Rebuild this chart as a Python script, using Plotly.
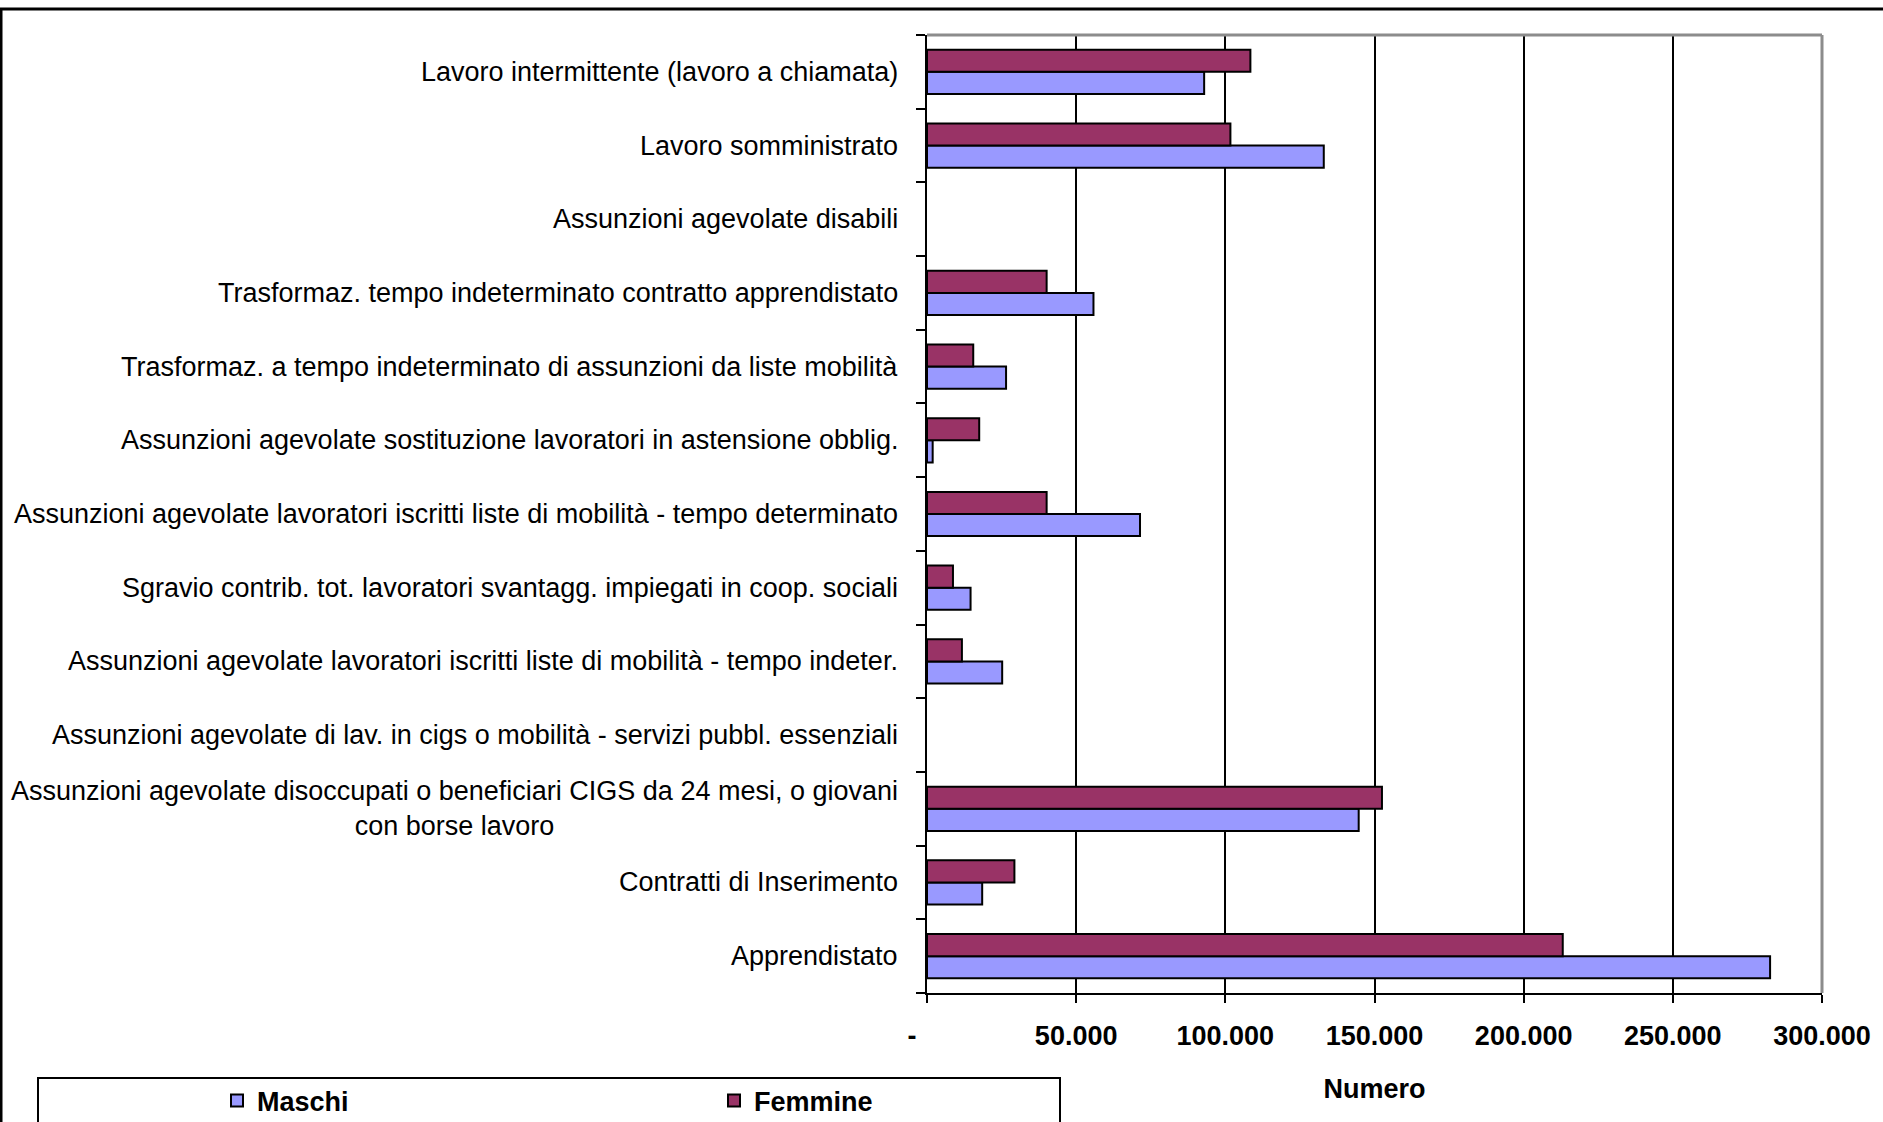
import plotly.graph_objects as go

# Categories listed top to bottom as they appear on the chart
categorie = [
    "Lavoro intermittente (lavoro a chiamata)",
    "Lavoro somministrato",
    "Assunzioni agevolate disabili",
    "Trasformaz. tempo indeterminato contratto apprendistato",
    "Trasformaz. a tempo indeterminato di assunzioni da liste mobilità",
    "Assunzioni agevolate sostituzione lavoratori in astensione obblig.",
    "Assunzioni agevolate lavoratori iscritti liste di mobilità - tempo determinato",
    "Sgravio contrib. tot. lavoratori svantagg. impiegati in coop. sociali",
    "Assunzioni agevolate lavoratori iscritti liste di mobilità - tempo indeter.",
    "Assunzioni agevolate di lav. in cigs o mobilità - servizi pubbl. essenziali",
    "Assunzioni agevolate disoccupati o beneficiari CIGS da 24 mesi, o giovani<br>con borse lavoro",
    "Contratti di Inserimento",
    "Apprendistato",
]

maschi = [92900, 133000, 0, 55800, 26500, 1900, 71400, 14600, 25200, 0, 144700, 18500, 282600]
femmine = [108400, 101700, 0, 40100, 15500, 17500, 40100, 8700, 11700, 0, 152500, 29300, 213100]

tick_valori = [0, 50000, 100000, 150000, 200000, 250000, 300000]
tick_testi = ["-\u00a0\u00a0\u00a0\u00a0", "50.000", "100.000", "150.000", "200.000", "250.000", "300.000"]

# Plotly stacks categories bottom-up, so feed them reversed
cat_plot = categorie[::-1]

FONT = "Liberation Sans, Arial, sans-serif"


def outline(values):
    # no outline on empty bars, so zero values leave no trace
    return [2 if v else 0 for v in values]


fig = go.Figure()
fig.add_trace(go.Bar(
    name="Maschi", y=cat_plot, x=maschi[::-1], orientation="h",
    marker=dict(color="#9999FF", line=dict(color="black", width=outline(maschi[::-1]))),
))
fig.add_trace(go.Bar(
    name="Femmine", y=cat_plot, x=femmine[::-1], orientation="h",
    marker=dict(color="#993366", line=dict(color="black", width=outline(femmine[::-1]))),
))

# Category labels as annotations so the wrapped label stays centred
annotations = []
for c in categorie:
    annotations.append(dict(
        x=0, xref="paper", y=c, yref="y", xanchor="right", yanchor="middle",
        xshift=-27, text=c, showarrow=False, align="center",
        font=dict(family=FONT, size=27, color="black"),
    ))

W, H = 1883, 1122
L, R, T, B = 927, 61, 35, 129
pw, ph = W - L - R, H - T - B


def px_x(p):
    return (p - L) / pw


def px_y(p):
    return (H - B - p) / ph


shapes = [
    # plot area top and right border
    dict(type="line", xref="paper", yref="paper", x0=0, x1=1, y0=1, y1=1,
         line=dict(color="#8c8c8c", width=3)),
    dict(type="line", xref="paper", yref="paper", x0=1, x1=1, y0=0, y1=1,
         line=dict(color="#8c8c8c", width=3)),
    # outer chart frame
    dict(type="line", xref="paper", yref="paper", x0=px_x(0), x1=px_x(W), y0=px_y(9), y1=px_y(9),
         line=dict(color="black", width=3)),
    dict(type="line", xref="paper", yref="paper", x0=px_x(1), x1=px_x(1), y0=px_y(9), y1=px_y(H + 10),
         line=dict(color="black", width=3)),
    # legend frame
    dict(type="rect", xref="paper", yref="paper", x0=px_x(38), x1=px_x(1060), y0=px_y(1078), y1=px_y(H + 20),
         line=dict(color="black", width=2), fillcolor="rgba(0,0,0,0)"),
]

fig.update_layout(
    width=W, height=H,
    margin=dict(l=L, r=R, t=T, b=B, autoexpand=False),
    paper_bgcolor="white", plot_bgcolor="white",
    barmode="group", bargap=0.4, bargroupgap=0,
    font=dict(family=FONT, size=27, color="black"),
    showlegend=True,
    legend=dict(
        orientation="h", x=px_x(217), y=px_y(1101), xanchor="left", yanchor="middle",
        font=dict(family=FONT, size=27, color="black", weight="bold"),
        entrywidth=452, entrywidthmode="pixels",
        bgcolor="rgba(0,0,0,0)", borderwidth=0, itemclick=False,
    ),
    annotations=annotations,
    shapes=shapes,
)

fig.update_xaxes(
    range=[0, 300000], tickvals=tick_valori, ticktext=tick_testi,
    showgrid=True, gridcolor="black", gridwidth=2, zeroline=False,
    showline=True, linecolor="black", linewidth=2,
    ticks="outside", ticklen=8, tickwidth=2, tickcolor="black",
    ticklabelstandoff=10,
    tickfont=dict(family=FONT, size=27, color="black", weight="bold"),
    title=dict(text="Numero", standoff=29,
               font=dict(family=FONT, size=27, color="black", weight="bold")),
)
fig.update_yaxes(
    categoryorder="array", categoryarray=cat_plot,
    showticklabels=False, showgrid=False, zeroline=False,
    showline=True, linecolor="black", linewidth=2,
    ticks="outside", tickson="boundaries", ticklen=9, tickwidth=2, tickcolor="black",
)

fig.write_html("out.html")
